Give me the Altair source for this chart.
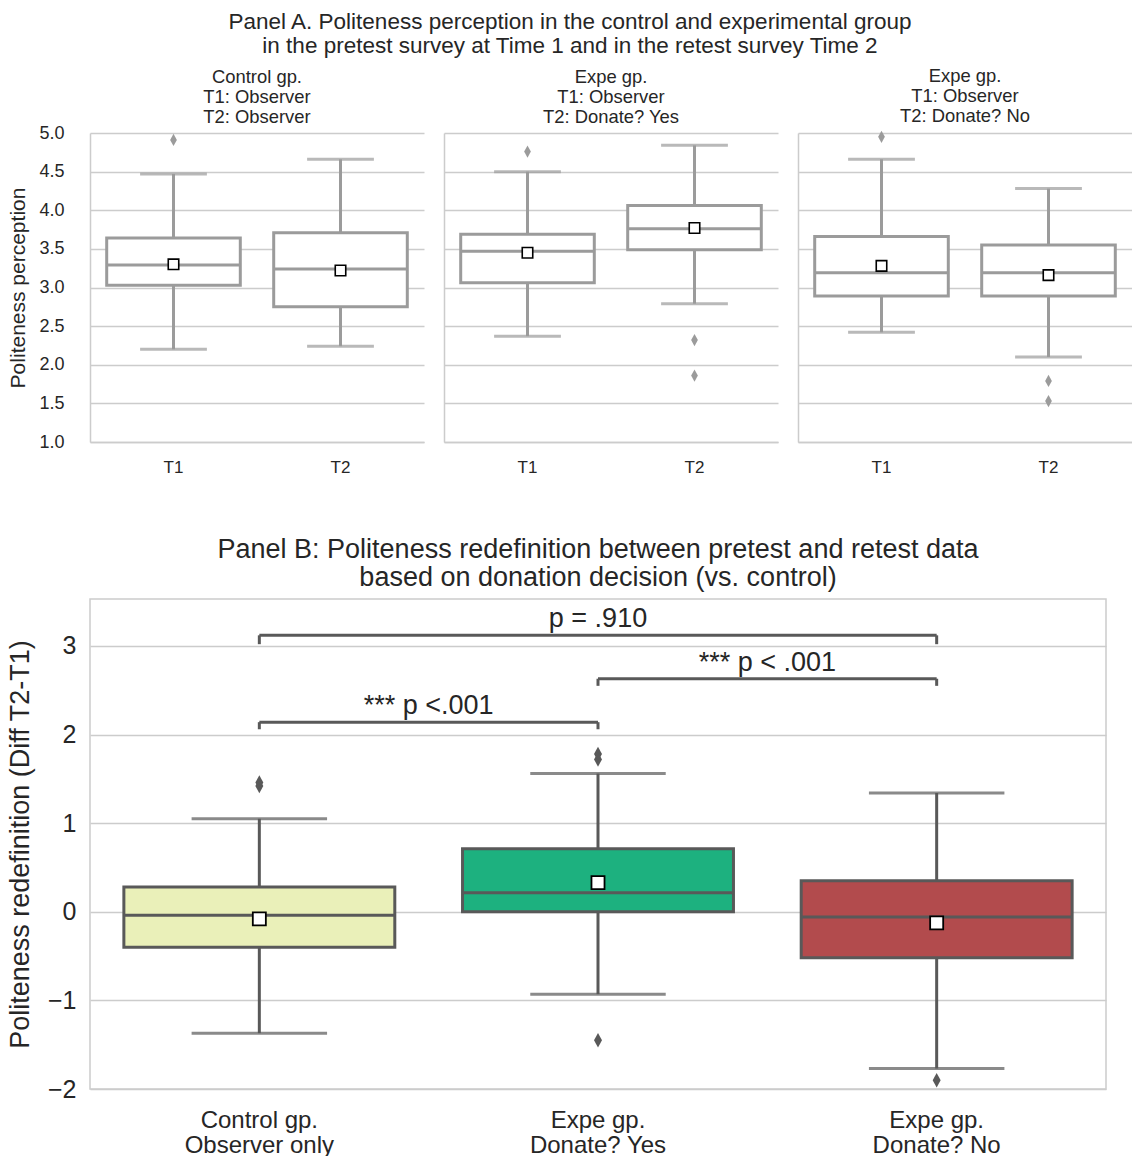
import altair as alt
import pandas as pd

FONT = "Liberation Sans"
TXT = "#262626"
GRID = "#cccccc"

# ---------------- Panel A data ----------------
a_title = ["Panel A. Politeness perception in the control and experimental group",
           "in the pretest survey at Time 1 and in the retest survey Time 2"]
a_panel_titles = [
    ["Control gp.", "T1: Observer", "T2: Observer"],
    ["Expe gp.", "T1: Observer", "T2: Donate? Yes"],
    ["Expe gp.", "T1: Observer", "T2: Donate? No"],
]
a_times = ["T1", "T2"]
a_lo = [[2.20, 2.24], [2.37, 2.79], [2.42, 2.10]]
a_q1 = [[3.03, 2.75], [3.06, 3.49], [2.89, 2.89]]
a_med = [[3.29, 3.24], [3.47, 3.76], [3.19, 3.19]]
a_q3 = [[3.64, 3.71], [3.69, 4.06], [3.66, 3.55]]
a_hi = [[4.47, 4.66], [4.50, 4.84], [4.66, 4.28]]
a_mean = [[3.30, 3.22], [3.45, 3.77], [3.28, 3.16]]
a_out = [[[4.91], []], [[4.76], [2.32, 1.86]], [[4.95], [1.79, 1.53]]]
a_yticks = [1.0, 1.5, 2.0, 2.5, 3.0, 3.5, 4.0, 4.5, 5.0]

# ---------------- Panel B data ----------------
b_title = ["Panel B: Politeness redefinition between pretest and retest data",
           "based on donation decision (vs. control)"]
b_groups = ["Control gp.\nObserver only", "Expe gp.\nDonate? Yes", "Expe gp.\nDonate? No"]
b_colors = ["#eaf0b9", "#1db17f", "#b24b4d"]
b_lo = [-1.37, -0.93, -1.77]
b_q1 = [-0.40, 0.00, -0.52]
b_med = [-0.04, 0.215, -0.06]
b_q3 = [0.28, 0.71, 0.35]
b_hi = [1.05, 1.56, 1.34]
b_mean = [-0.08, 0.33, -0.125]
b_out_group = [0, 0, 1, 1, 1, 2]
b_out_val = [1.42, 1.46, 1.72, 1.78, -1.45, -1.90]
b_yticks = [-2, -1, 0, 1, 2, 3]
# significance brackets (group indices)
br_left = [0, 1, 0]
br_right = [1, 2, 2]
br_level = [2.14, 2.63, 3.12]
br_drop = [0.08, 0.08, 0.10]
br_label = ["*** p <.001", "*** p < .001", "p = .910"]

DIAMOND = "M0,-1L0.55,0L0,1L-0.55,0Z"

# ---------------- Panel A ----------------
AW, AH = 334, 309
A_BAND = AW / 2 * 0.8
A_GRAY = "#9b9b9b"
A_TITLE_OFFSET = [-2, 7, 5]


def panel_a(i):
    df = pd.DataFrame({"time": a_times, "lo": a_lo[i], "q1": a_q1[i], "med": a_med[i],
                       "q3": a_q3[i], "hi": a_hi[i], "mean": a_mean[i]})
    ot, ov = [], []
    for j, t in enumerate(a_times):
        for v in a_out[i][j]:
            ot.append(t)
            ov.append(v)
    dfo = pd.DataFrame({"time": ot, "value": ov})
    first = i == 0
    x = alt.X("time:N", sort=a_times, title=None,
              scale=alt.Scale(paddingInner=0.2, paddingOuter=0.1),
              axis=alt.Axis(labelAngle=0, ticks=False, domain=True, domainColor=GRID,
                            domainWidth=1.5, grid=False, labelFontSize=17, labelPadding=17,
                            labelColor=TXT))
    yax = alt.Axis(values=a_yticks, format=".1f", grid=True, gridColor=GRID, gridWidth=1.3,
                   ticks=False, domain=True, domainColor=GRID, domainWidth=1.5,
                   labels=first, labelFontSize=18, labelPadding=26, labelColor=TXT,
                   title="Politeness perception" if first else None,
                   titleFontSize=21, titleFontWeight="normal", titleColor=TXT, titlePadding=10)
    ysc = alt.Scale(domain=[1, 5], nice=False, zero=False)

    def Y(f):
        return alt.Y(f, scale=ysc, axis=yax)

    base = alt.Chart(df)
    whisk = base.mark_rule(color=A_GRAY, strokeWidth=3).encode(x=x, y=Y("lo:Q"), y2="hi:Q")
    box = base.mark_bar(fill="white", stroke=A_GRAY, strokeWidth=3).encode(
        x=x, y=Y("q1:Q"), y2="q3:Q")
    med = base.mark_bar(fill="white", stroke=A_GRAY, strokeWidth=3).encode(
        x=x, y=Y("med:Q"), y2="med:Q")
    cap_lo = base.mark_tick(color=A_GRAY, size=A_BAND / 2, thickness=3).encode(x=x, y=Y("lo:Q"))
    cap_hi = base.mark_tick(color=A_GRAY, size=A_BAND / 2, thickness=3).encode(x=x, y=Y("hi:Q"))
    outs = alt.Chart(dfo).mark_point(shape=DIAMOND, filled=True, color=A_GRAY, size=150,
                                     opacity=1).encode(x=x, y=Y("value:Q"))
    mean = base.mark_point(shape="square", filled=True, fill="white", stroke="black",
                           strokeWidth=1.6, size=110, opacity=1).encode(x=x, y=Y("mean:Q"))
    return alt.layer(whisk, box, med, cap_lo, cap_hi, outs, mean).properties(
        width=AW, height=AH,
        title=alt.TitleParams(a_panel_titles[i], fontSize=18.4, fontWeight="normal",
                              color=TXT, lineHeight=20, offset=A_TITLE_OFFSET[i],
                              anchor="middle"))


panelA = alt.hconcat(panel_a(0), panel_a(1), panel_a(2), spacing=20).properties(
    title=alt.TitleParams(a_title, fontSize=22.5, fontWeight="normal", color=TXT,
                          lineHeight=24, anchor="middle", offset=10))

# ---------------- Panel B ----------------
BW, BH = 1016, 490
B_BAND = BW / 3 * 0.8
dfb = pd.DataFrame({"group": b_groups, "lo": b_lo, "q1": b_q1, "med": b_med, "q3": b_q3,
                    "hi": b_hi, "mean": b_mean})
dfbo = pd.DataFrame({"group": [b_groups[k] for k in b_out_group], "value": b_out_val})
xb = alt.X("group:N", sort=b_groups, title=None,
           scale=alt.Scale(paddingInner=0.2, paddingOuter=0.1),
           axis=alt.Axis(labelAngle=0, ticks=False, domain=False, grid=False,
                         labelExpr="split(datum.label, '\\n')", labelFontSize=24,
                         labelLineHeight=25, labelPadding=19, labelColor=TXT))
ybsc = alt.Scale(domain=[-2, 3.53], nice=False, zero=False)
ybax = alt.Axis(values=b_yticks, format="d", grid=True, gridColor=GRID, gridWidth=1.5,
                ticks=False, domain=False, labelFontSize=25, labelPadding=14, labelColor=TXT,
                title="Politeness redefinition (Diff T2-T1)", titleFontSize=27,
                titleFontWeight="normal", titleColor=TXT, titlePadding=13)


def YB(f):
    return alt.Y(f, scale=ybsc, axis=ybax)


EDGE = "#595959"
bb = alt.Chart(dfb)
b_whisk = bb.mark_rule(color=EDGE, strokeWidth=3).encode(x=xb, y=YB("lo:Q"), y2="hi:Q")
b_box = bb.mark_bar(stroke=EDGE, strokeWidth=3, opacity=1).encode(
    x=xb, y=YB("q1:Q"), y2="q3:Q",
    fill=alt.Fill("group:N", scale=alt.Scale(domain=b_groups, range=b_colors), legend=None))
b_med = bb.mark_bar(stroke=EDGE, strokeWidth=3, fillOpacity=0).encode(
    x=xb, y=YB("med:Q"), y2="med:Q")
b_cap_lo = bb.mark_tick(color=EDGE, size=B_BAND / 2, thickness=3).encode(x=xb, y=YB("lo:Q"))
b_cap_hi = bb.mark_tick(color=EDGE, size=B_BAND / 2, thickness=3).encode(x=xb, y=YB("hi:Q"))
b_outs = alt.Chart(dfbo).mark_point(shape=DIAMOND, filled=True, color=EDGE, size=210,
                                    opacity=1).encode(x=xb, y=YB("value:Q"))
b_mean = bb.mark_point(shape="square", filled=True, fill="white", stroke="black",
                       strokeWidth=1.8, size=170, opacity=1).encode(x=xb, y=YB("mean:Q"))
boxesB = alt.layer(b_whisk, b_box, b_med, b_cap_lo, b_cap_hi, b_outs, b_mean)

# plot frame of panel B (decoration around the plot area)
b_frame = alt.Chart(pd.DataFrame({"frame": [0]})).mark_rect(
    fill="transparent", stroke=GRID, strokeWidth=1.5).encode(
    x=alt.value(0), x2=alt.value(BW), y=alt.value(0), y2=alt.value(BH))

# brackets on an index scale aligned with band centres
dfbr = pd.DataFrame({"l": br_left, "r": br_right, "lev": br_level,
                     "bot": [lv - d for lv, d in zip(br_level, br_drop)], "label": br_label})
dfbr["mid"] = (dfbr["l"] + dfbr["r"]) / 2
xq = alt.Scale(domain=[-0.5, 2.5], nice=False, zero=False)
brk = alt.Chart(dfbr)
br_h = brk.mark_rule(color=EDGE, strokeWidth=3).encode(
    x=alt.X("l:Q", scale=xq, axis=None), x2="r:Q", y=YB("lev:Q"))
br_vl = brk.mark_rule(color=EDGE, strokeWidth=3).encode(
    x=alt.X("l:Q", scale=xq, axis=None), y=YB("lev:Q"), y2="bot:Q")
br_vr = brk.mark_rule(color=EDGE, strokeWidth=3).encode(
    x=alt.X("r:Q", scale=xq, axis=None), y=YB("lev:Q"), y2="bot:Q")
br_t = brk.mark_text(fontSize=27, color=TXT, baseline="alphabetic", dy=-8).encode(
    x=alt.X("mid:Q", scale=xq, axis=None), y=YB("lev:Q"), text="label:N")
bracketsB = alt.layer(br_h, br_vl, br_vr, br_t)

panelB = alt.layer(boxesB, bracketsB, b_frame).resolve_scale(x="independent").properties(
    width=BW, height=BH,
    title=alt.TitleParams(b_title, fontSize=27, fontWeight="normal", color=TXT,
                          lineHeight=28, anchor="middle", offset=6))

chart = alt.concat(panelA, panelB, columns=1, spacing=61).properties(
    padding={"left": 6, "top": 10, "right": 0, "bottom": 0}
).configure(
    font=FONT,
    view=alt.ViewConfig(stroke="transparent", strokeWidth=0),
    style={"cell": {"stroke": "transparent", "strokeWidth": 0}},
).configure_axis(labelFont=FONT, titleFont=FONT).configure_title(font=FONT)

chart.save("out.html", embed_options={"renderer": "svg", "actions": False})
